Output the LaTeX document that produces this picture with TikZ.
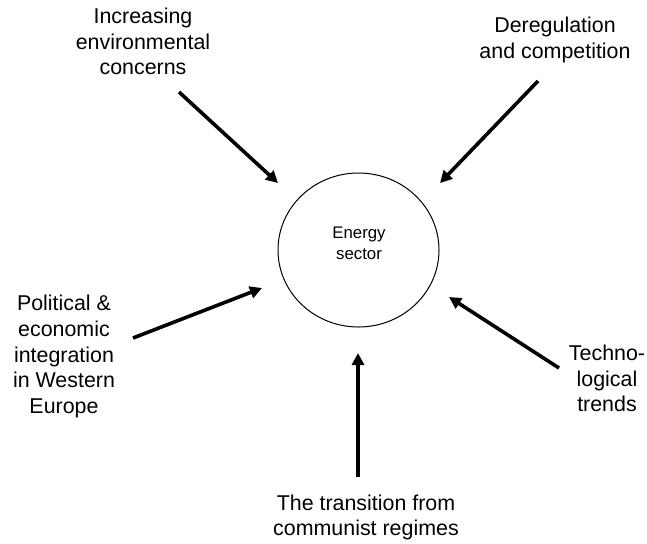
\documentclass[tikz,border=0pt]{standalone}
\usepackage{fontspec}
\setmainfont{Liberation Sans}
\usetikzlibrary{arrows.meta,shapes.geometric}

\begin{document}
\begin{tikzpicture}[x=0.5pt, y=-0.5pt,
  driver/.style={font=\fontsize{10.7}{12.9}\selectfont, align=center, inner sep=0pt},
  push/.style={line width=1.8pt, -{Triangle[length=6pt, width=6pt]}}]

\useasboundingbox (0,0) rectangle (647,543);

\coordinate (envtail) at (179,92);
\coordinate (envhead) at (278,183);
\coordinate (deregtail) at (538,81);
\coordinate (dereghead) at (440,183);
\coordinate (integtail) at (133,338);
\coordinate (integhead) at (262,288);
\coordinate (techtail) at (559,368);
\coordinate (techhead) at (449,297);
\coordinate (transtail) at (358,477);
\coordinate (transhead) at (358,353);

\node[ellipse, draw, line width=0.5pt, minimum width=80.5pt, minimum height=77pt] (sector) at (358.5,250) {};
\node[font=\fontsize{8.4}{10.5}\selectfont, align=center, inner sep=0pt] (sectorname) at (359,243) {Energy\\sector};

\draw[push] (envtail) -- (envhead);
\draw[push] (deregtail) -- (dereghead);
\draw[push] (integtail) -- (integhead);
\draw[push] (techtail) -- (techhead);
\draw[push] (transtail) -- (transhead);

\node[driver] (env) at (143,41.5) {Increasing\\environmental\\concerns};
\node[driver] (dereg) at (555,40) {Deregulation\\and competition};
\node[driver] (integ) at (64,356.5) {Political \&\\economic\\integration\\in Western\\Europe};
\node[driver] (tech) at (607,378.5) {Techno-\\logical\\trends};
\node[driver] (trans) at (366,517.5) {The transition from\\communist regimes};

\end{tikzpicture}
\end{document}
